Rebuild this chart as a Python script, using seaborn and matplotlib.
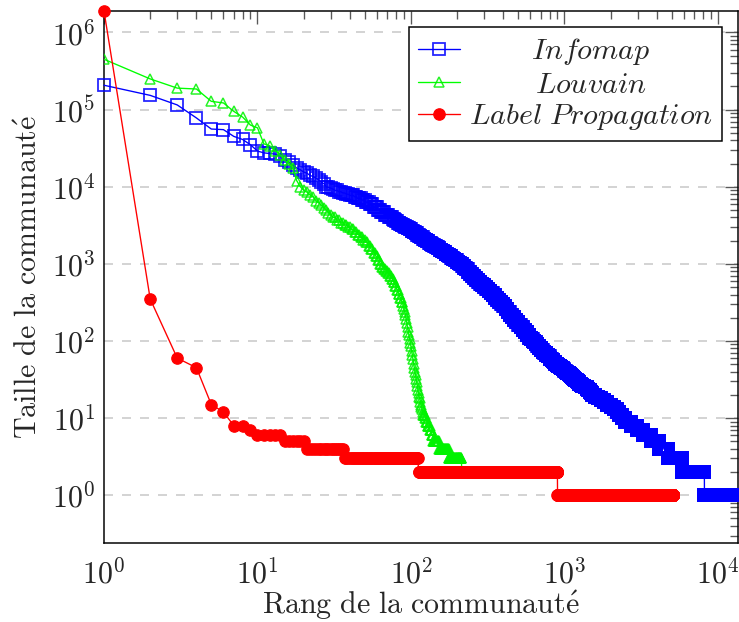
import numpy as np
import pandas as pd
import matplotlib
matplotlib.use("Agg")
import matplotlib.pyplot as plt
import seaborn as sns
from matplotlib.ticker import LogLocator, NullFormatter, FixedLocator, FixedFormatter
from matplotlib.transforms import Affine2D

# ---------------- data ----------------
# Infomap: sizes of the first 30 ranked communities, then size levels
# (level i covers ranks infomap_level_start[i] .. next start - 1)
infomap_top = [207000, 153000, 115000, 78000, 56000, 55000, 45000, 41000, 35000, 29000,
               27500, 27000, 26500, 25000, 22000, 21000, 19000, 17500, 16600, 15500,
               15000, 14000, 13600, 13000, 12300, 11500, 11000, 10000, 9800, 9600]
infomap_level_start = [31, 32, 34, 36, 38, 40, 43, 45, 48, 51, 54, 57, 61, 64, 68, 72,
                       76, 78, 80, 82, 85, 87, 90, 92, 95, 98, 101, 104, 107, 110, 113, 116,
                       120, 123, 127, 131, 135, 138, 142, 146, 150, 154, 159, 163, 168, 173,
                       178, 183, 188, 193, 199, 204,
                       210, 216, 222, 228, 235, 243, 250, 258, 266, 275, 283, 291, 300,
                       310, 320, 330, 341, 353, 365, 376, 388, 400, 413, 426, 440, 454, 470,
                       485, 501, 518, 535, 552, 571, 590, 605, 620, 635, 650, 667, 685, 702,
                       720, 740, 760, 780,
                       800, 808, 816, 824, 832, 840, 848, 856, 864, 872, 880, 893, 907, 920,
                       933, 947, 960, 973, 987, 1000, 1017, 1033, 1050, 1067, 1083, 1100,
                       1117, 1133, 1150, 1175, 1200, 1225, 1250, 1275, 1300, 1350, 1400,
                       1430, 1460, 1490, 1520, 1580, 1650, 1720, 1800, 1900, 2000, 2100,
                       2200, 2280, 2360, 2480, 2700, 2950, 3250, 3650, 4120, 4720, 5830, 8150]
infomap_level_size = [9300, 8950, 8600, 8300, 8000, 7700, 7400, 7050, 6700, 6300, 5900, 5450,
                      5000, 4650, 4300, 4050,
                      3800, 3670, 3550, 3420, 3300, 3200, 3100, 3000, 2900, 2800, 2700, 2600,
                      2500, 2400, 2300, 2200, 2100, 2020, 1950, 1870, 1800, 1750, 1700, 1650,
                      1600, 1530, 1470, 1410, 1350, 1300, 1250, 1200, 1150, 1110, 1070, 1035,
                      1000, 945, 895, 850, 795, 745, 700, 655, 615, 580, 550, 525, 500, 472,
                      445, 420, 390, 365, 340, 318, 298, 280, 258, 238, 220, 204, 189, 175,
                      162, 151, 140, 129, 119, 110, 105, 100, 96, 92, 87, 82, 77, 72, 69, 66,
                      63,
                      60, 59, 58, 57, 56, 55, 54, 53, 52, 51, 50, 49, 48, 47, 46, 45, 44, 43,
                      42, 41, 40, 39, 38, 37, 36, 35, 34, 33, 32, 31, 30, 29, 28, 27, 26, 25,
                      24, 23, 22, 21, 20, 19, 18, 17, 16, 15, 14, 13, 12, 11, 10, 9, 8, 7, 6,
                      5, 4, 3, 2, 1]
infomap_total = 13500

# Louvain
louvain_top = [450000, 250000, 190000, 185000, 128000, 122000, 95000, 80000, 63000, 58000,
               36000, 34000, 29500, 26000, 22000, 20000, 17500, 12000, 10000, 9000,
               8500, 7800, 7400, 6600, 6200, 5800, 5300, 5000, 4600, 4300]
louvain_level_start = [31, 33, 35, 37, 39, 41, 43, 45, 47, 49, 51, 53, 55, 57, 59, 61, 63, 65,
                       67, 69, 71, 73, 75, 77, 79, 81, 83, 85, 87, 89,
                       90, 91, 92, 93, 94, 95, 96, 97, 98, 99, 100, 101, 102, 103, 104, 105,
                       106, 107, 108, 109, 110, 111, 112, 113, 114, 115, 116, 117, 118, 119,
                       120, 124, 126, 129, 133, 137, 140, 153, 177, 214]
louvain_level_size = [4000, 3700, 3400, 3200, 3000, 2800, 2600, 2400, 2200, 2050, 1900, 1700,
                      1550, 1400, 1250, 1120, 1000, 920, 860, 800, 750, 700, 640, 580, 520,
                      460, 410, 360, 320, 280,
                      260, 240, 215, 190, 170, 150, 130, 118, 105, 95, 85, 75, 65, 58, 51, 45,
                      40, 36, 32, 29, 26, 23, 21, 19, 18, 16, 15, 14, 13, 12,
                      11, 10, 9, 8, 7, 6, 5, 4, 3, 2]
louvain_total = 390

# Label Propagation
lp_top = [1900000, 350, 60, 45, 15, 12, 8, 8, 7]
lp_level_start = [10, 15, 21, 37, 112, 900]
lp_level_size = [6, 5, 4, 3, 2, 1]
lp_total = 5100

series_labels = [r"$Infomap$", r"$Louvain$", r"$Label\ Propagation$"]
x_tick_labels = [r"$10^{0}$", r"$10^{1}$", r"$10^{2}$", r"$10^{3}$", r"$10^{4}$"]
y_tick_labels = [r"$10^{0}$", r"$10^{1}$", r"$10^{2}$", r"$10^{3}$", r"$10^{4}$",
                 r"$10^{5}$", r"$10^{6}$"]


def expand(top, starts, sizes, total):
    counts = np.diff(list(starts) + [total + 1])
    s = list(top) + list(np.repeat(sizes, counts))
    r = np.arange(1, len(s) + 1)
    return pd.DataFrame({"rank": r, "size": np.array(s, dtype=float)})


df_info = expand(infomap_top, infomap_level_start, infomap_level_size, infomap_total)
df_louv = expand(louvain_top, louvain_level_start, louvain_level_size, louvain_total)
df_lp = expand(lp_top, lp_level_start, lp_level_size, lp_total)

# ---------------- style ----------------
sns.set_style("white")
plt.rcParams["mathtext.fontset"] = "cm"
plt.rcParams["font.family"] = ["DejaVu Serif"]
plt.rcParams["lines.scale_dashes"] = False

DPI = 216
fig = plt.figure(figsize=(739 / DPI, 622 / DPI), dpi=DPI)
ax = fig.add_axes([104 / 739, 79 / 622, 634 / 739, 532 / 622])

lw = 0.45
sns.lineplot(data=df_info, x="rank", y="size", ax=ax, color=(0, 0, 1), lw=lw,
             marker="s", markersize=3.7, markerfacecolor="none",
             markeredgecolor=(0, 0, 1, 0.85), markeredgewidth=0.6,
             estimator=None, label=series_labels[0], clip_on=False, zorder=3)
sns.lineplot(data=df_louv, x="rank", y="size", ax=ax, color=(0, 1, 0), lw=lw,
             marker="^", markersize=3.4, markerfacecolor="none",
             markeredgecolor=(0, 0.95, 0, 0.85), markeredgewidth=0.5,
             estimator=None, label=series_labels[1], zorder=4)
sns.lineplot(data=df_lp, x="rank", y="size", ax=ax, color=(1, 0, 0), lw=lw,
             marker="o", markersize=3.8, markerfacecolor=(1, 0, 0),
             markeredgecolor=(1, 0, 0), markeredgewidth=0.4,
             estimator=None, label=series_labels[2], clip_on=False, zorder=5)

ax.set_xscale("log")
ax.set_yscale("log")
ax.set_xlim(1, 13500)
ax.set_ylim(0.24, 1.9e6)

ax.xaxis.set_major_locator(FixedLocator([1, 10, 100, 1000, 10000]))
ax.xaxis.set_major_formatter(FixedFormatter(x_tick_labels))
ax.yaxis.set_major_locator(FixedLocator([1, 10, 100, 1e3, 1e4, 1e5, 1e6]))
ax.yaxis.set_major_formatter(FixedFormatter(y_tick_labels))
ax.xaxis.set_minor_locator(LogLocator(base=10, subs=np.arange(2, 10), numticks=20))
ax.yaxis.set_minor_locator(LogLocator(base=10, subs=np.arange(2, 10), numticks=20))
ax.xaxis.set_minor_formatter(NullFormatter())
ax.yaxis.set_minor_formatter(NullFormatter())

ax.tick_params(which="both", direction="in", top=True, right=True, color="0.35",
               width=0.45)
ax.tick_params(which="major", length=4.2, labelsize=10)
ax.tick_params(which="minor", length=2.6)
ax.tick_params(axis="x", which="major", pad=5)
ax.tick_params(axis="y", which="major", pad=3)

ax.yaxis.grid(True, which="major", color="0.78", lw=0.5, dashes=(3, 3))
ax.xaxis.grid(False)
ax.set_axisbelow(True)
for sp in ax.spines.values():
    sp.set_color("black")
    sp.set_linewidth(0.5)

ax.set_xlabel(r"$\mathrm{Rang\ de\ la\ communaut\acute{e}}$", fontsize=10, labelpad=-0.3)
ax.set_ylabel(r"$\mathrm{Taille\ de\ la\ communaut\acute{e}}$", fontsize=10, labelpad=3)

leg = ax.legend(loc="upper right", bbox_to_anchor=(1 - 16 / 634, 1 - 16 / 532),
                borderaxespad=0, fontsize=10, frameon=True, fancybox=False,
                edgecolor="black", framealpha=1, handlelength=1.4,
                handletextpad=0.3, labelspacing=0.12, borderpad=0.3)
leg.get_frame().set_linewidth(0.5)

fig.canvas.draw()
texts = leg.get_texts()
widths = [t.get_window_extent().width for t in texts]
maxw = max(widths)
for t, w in zip(texts, widths):
    t.set_transform(t.get_transform() + Affine2D().translate((maxw - w) / 2, 0))

fig.savefig("out.png", dpi=DPI)
